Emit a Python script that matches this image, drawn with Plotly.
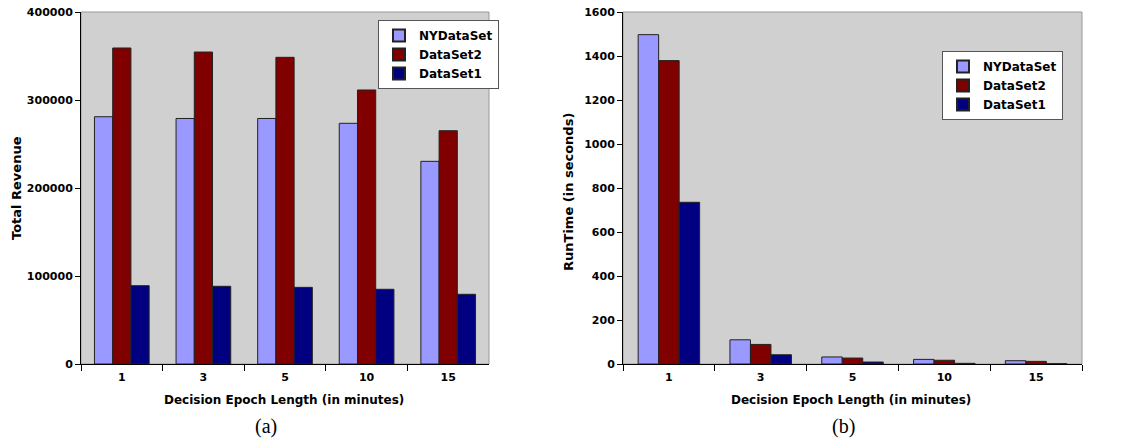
import plotly.graph_objects as go

categories = ["1", "3", "5", "10", "15"]
series_names = ["NYDataSet", "DataSet2", "DataSet1"]

revenue_ny = [281000, 279000, 279000, 273500, 230300]
revenue_ds2 = [359100, 354500, 348500, 311400, 265100]
revenue_ds1 = [89000, 88300, 87100, 84900, 79200]

runtime_ny = [1497, 110, 32, 21, 15]
runtime_ds2 = [1379, 89, 27, 17, 12]
runtime_ds1 = [735, 42, 9, 3, 1.5]

y_ticks_a = [0, 100000, 200000, 300000, 400000]
y_ticks_b = [0, 200, 400, 600, 800, 1000, 1200, 1400, 1600]

colors = ["#9999FF", "#800000", "#000080"]
FONT = "DejaVu Sans"

fig = go.Figure()

for name, vals, c in zip(series_names, [revenue_ny, revenue_ds2, revenue_ds1], colors):
    fig.add_trace(go.Bar(x=categories, y=vals, name=name, marker=dict(color=c, line=dict(color="#222", width=1)),
                         xaxis="x", yaxis="y", legend="legend"))
for name, vals, c in zip(series_names, [runtime_ny, runtime_ds2, runtime_ds1], colors):
    fig.add_trace(go.Bar(x=categories, y=vals, name=name, marker=dict(color=c, line=dict(color="#222", width=1)),
                         xaxis="x2", yaxis="y2", legend="legend2"))

W, H = 1128, 439
ydom = [(H - 364) / H, (H - 12) / H]
xdom_a = [81 / W, 489 / W]
xdom_b = [623 / W, 1082 / W]

tickfont = dict(family=FONT, size=11, color="black", weight="bold")

def xaxis(domain, anchor):
    return dict(domain=domain, anchor=anchor, type="category", showgrid=False, zeroline=False,
                showline=True, linecolor="black", linewidth=1, ticks="outside", tickson="boundaries",
                ticklen=6, tickcolor="black", tickfont=tickfont, fixedrange=True, automargin=False,
                ticklabelstandoff=3)

def yaxis(domain, anchor, rng, tv):
    return dict(domain=domain, anchor=anchor, range=rng, tickvals=tv, tickformat="d", showgrid=False,
                zeroline=False, showline=True, linecolor="black", linewidth=1, ticks="outside",
                ticklen=5, tickcolor="black", tickfont=tickfont, automargin=False)

legend_common = dict(bgcolor="white", bordercolor="#555", borderwidth=1,
                     font=dict(family=FONT, size=12, color="black", weight="bold"),
                     xanchor="left", yanchor="top", tracegroupgap=0, itemsizing="constant")

fig.update_layout(
    width=W, height=H, margin=dict(l=0, r=0, t=0, b=0, autoexpand=False),
    paper_bgcolor="white", plot_bgcolor="#D0D0D0",
    barmode="group", bargap=0.33, bargroupgap=0,
    xaxis=xaxis(xdom_a, "y"), yaxis=yaxis(ydom, "x", [0, 400000], y_ticks_a),
    xaxis2=xaxis(xdom_b, "y2"), yaxis2=yaxis(ydom, "x2", [0, 1600], y_ticks_b),
    legend=dict(x=378 / W, y=1 - 20 / H, **legend_common),
    legend2=dict(x=942 / W, y=1 - 51 / H, **legend_common),
    showlegend=True,
)

# light gray border around plot areas
for xd in (xdom_a, xdom_b):
    fig.add_shape(type="rect", xref="paper", yref="paper", x0=xd[0], x1=xd[1], y0=ydom[0], y1=ydom[1],
                  line=dict(color="#999", width=1), layer="below")


def label(text, x, y, font, angle=0):
    fig.add_annotation(text=text, x=x / W, y=1 - y / H, xref="paper", yref="paper", showarrow=False,
                       xanchor="center", yanchor="middle", textangle=angle, font=font)


title_font = dict(family=FONT, size=12, color="black", weight="bold")
ytitle_font = dict(family=FONT, size=13, color="black", weight="bold")
label("Total Revenue", 16, 188, ytitle_font, -90)
label("RunTime (in seconds)", 568, 192, ytitle_font, -90)
label("Decision Epoch Length (in minutes)", 284, 400, title_font)
label("Decision Epoch Length (in minutes)", 851, 400, title_font)
cap_font = dict(family="Liberation Serif", size=20, color="black")
label("(a)", 266, 426, cap_font)
label("(b)", 843, 426, cap_font)

fig.write_html("out.html")
